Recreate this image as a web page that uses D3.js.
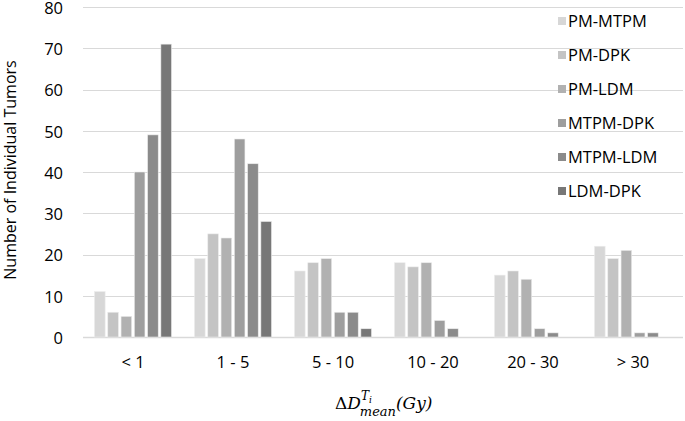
<!DOCTYPE html>
<html>
<head>
<meta charset="utf-8">
<script src="https://cdn.jsdelivr.net/npm/d3@7"></script>
<style>
  body { margin: 0; background: #fff; }
  text { font-family: "Open Sans", "DejaVu Sans", sans-serif; fill: #000; }
</style>
</head>
<body>
<div id="chart"></div>
<script>
let w = 685;
let h = 421;

// categories and series
const categories = ["< 1", "1 - 5", "5 - 10", "10 - 20", "20 - 30", "> 30"];
const seriesNames = ["PM-MTPM", "PM-DPK", "PM-LDM", "MTPM-DPK", "MTPM-LDM", "LDM-DPK"];
const seriesColors = ["#d7d7d7", "#c4c4c4", "#b1b1b1", "#9e9e9e", "#8b8b8b", "#777777"];

// values per series, one entry per category
const pmMtpm = [11, 19, 16, 18, 15, 22];
const pmDpk = [6, 25, 18, 17, 16, 19];
const pmLdm = [5, 24, 19, 18, 14, 21];
const mtpmDpk = [40, 48, 6, 4, 2, 1];
const mtpmLdm = [49, 42, 6, 2, 1, 1];
const ldmDpk = [71, 28, 2, 0, 0, 0];
const seriesValues = [pmMtpm, pmDpk, pmLdm, mtpmDpk, mtpmLdm, ldmDpk];

const yTicks = [0, 10, 20, 30, 40, 50, 60, 70, 80];

const margin = { left: 83, right: 2, top: 7, bottom: 84 };

var svg = d3.select("#chart").append("svg").attr("width", w).attr("height", h);

var x0 = d3.scaleBand()
  .domain(categories)
  .range([margin.left, w - margin.right])
  .padding(0);

var x1 = d3.scaleBand()
  .domain(seriesNames)
  .range([11.5, x0.bandwidth() - 11.5])
  .paddingInner(0.2)
  .paddingOuter(0);

var y = d3.scaleLinear()
  .domain([0, 80])
  .range([h - margin.bottom, margin.top]);

// gridlines
svg.append("g")
  .selectAll("line")
  .data(yTicks)
  .enter()
  .append("line")
  .attr("x1", margin.left)
  .attr("x2", w - margin.right)
  .attr("y1", d => Math.round(y(d)) + 0.5)
  .attr("y2", d => Math.round(y(d)) + 0.5)
  .attr("stroke", "#d9d9d9")
  .attr("stroke-width", d => d === 0 ? 1.5 : 1);

// y tick labels
svg.append("g")
  .selectAll("text")
  .data(yTicks)
  .enter()
  .append("text")
  .attr("x", 63)
  .attr("y", d => y(d))
  .attr("dy", "0.42em")
  .attr("text-anchor", "end")
  .style("font-size", "16.5px")
  .text(d => d);

// bars
const groups = svg.append("g")
  .selectAll("g")
  .data(categories)
  .enter()
  .append("g")
  .attr("transform", d => "translate(" + x0(d) + ",0)");

groups.selectAll("rect")
  .data((d, i) => seriesNames.map((s, j) => ({ s: s, v: seriesValues[j][i], c: seriesColors[j] })))
  .enter()
  .append("rect")
  .attr("x", d => x1(d.s))
  .attr("width", x1.bandwidth())
  .attr("y", d => y(d.v))
  .attr("height", d => y(0) - y(d.v))
  .attr("fill", d => d.c)
  .attr("stroke", "#ececec")
  .attr("stroke-width", 0.6);

// x tick labels
svg.append("g")
  .selectAll("text")
  .data(categories)
  .enter()
  .append("text")
  .attr("x", d => x0(d) + x0.bandwidth() / 2)
  .attr("y", 368)
  .attr("text-anchor", "middle")
  .style("font-size", "16.5px")
  .text(d => d);

// y axis title
svg.append("text")
  .attr("transform", "translate(16," + 170 + ") rotate(-90)")
  .attr("text-anchor", "middle")
  .style("font-size", "16px")
  .text("Number of Individual Tumors");

// x axis title: ΔD_mean^Ti (Gy)
const xt = svg.append("text")
  .attr("x", 335)
  .attr("y", 409)
  .style("font-family", "'DejaVu Serif', 'Liberation Serif', serif")
  .style("font-style", "italic")
  .style("font-size", "17px");
xt.append("tspan").style("font-style", "normal").text("Δ");
xt.append("tspan").text("D");
xt.append("tspan").attr("dy", -9).style("font-size", "12px").text("T");
xt.append("tspan").attr("dy", 3).style("font-size", "9px").text("i");
xt.append("tspan").attr("dx", -12).attr("dy", 13).style("font-size", "13px").text("mean");
xt.append("tspan").attr("dy", -7).text("(Gy)");

// legend
const legend = svg.append("g")
  .selectAll("g")
  .data(seriesNames)
  .enter()
  .append("g")
  .attr("transform", (d, i) => "translate(558," + (21 + i * 34) + ")");

legend.append("rect")
  .attr("x", 0)
  .attr("y", -4)
  .attr("width", 8)
  .attr("height", 8)
  .attr("fill", (d, i) => seriesColors[i]);

legend.append("text")
  .attr("x", 10)
  .attr("y", 0)
  .attr("dy", "0.36em")
  .style("font-size", "16.5px")
  .text(d => d);
</script>
</body>
</html>
